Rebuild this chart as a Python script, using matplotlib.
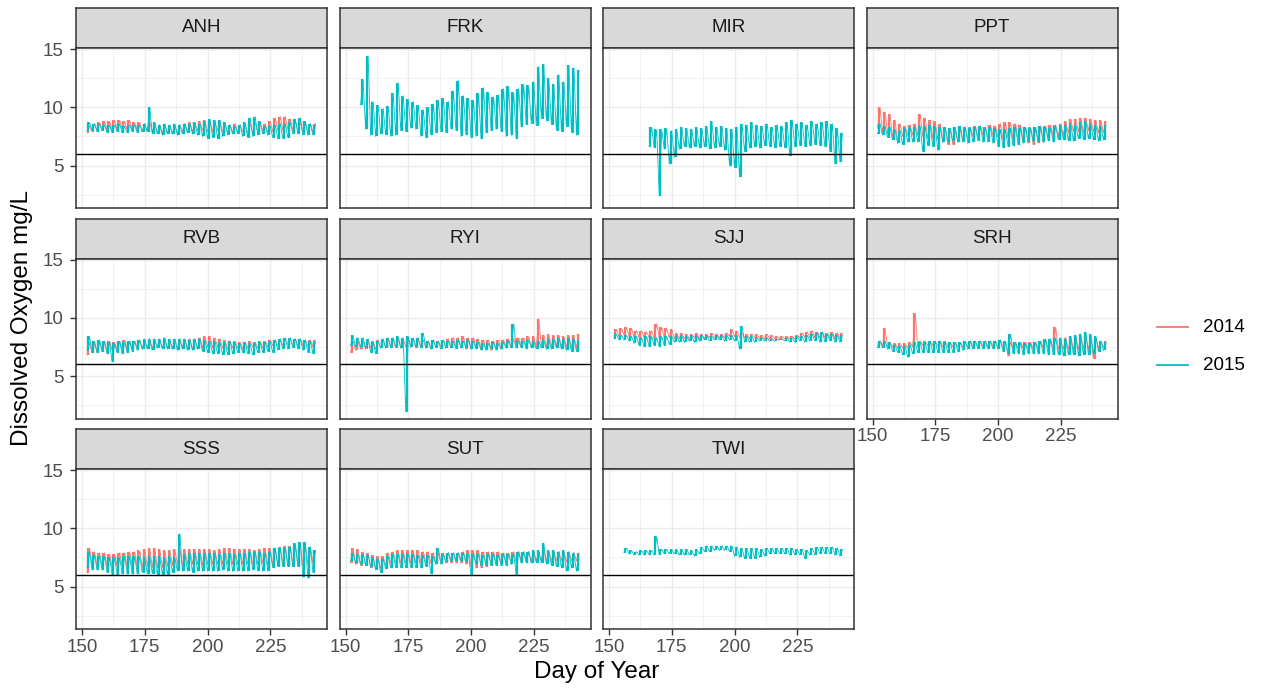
import numpy as np
import matplotlib.pyplot as plt
from matplotlib.lines import Line2D

plt.rcParams['font.family'] = ['Liberation Sans', 'DejaVu Sans']

# CONFIGURACION
W, H = 1261, 692
xlabel = "Day of Year"
ylabel = "Dissolved Oxygen mg/L"
sites = ["ANH", "FRK", "MIR", "PPT", "RVB", "RYI", "SJJ", "SRH", "SSS", "SUT", "TWI"]
years = ["2014", "2015"]
colors = {"2014": "#F8766D", "2015": "#00BFC4"}
xticks = [150, 175, 200, 225]
yticks = [5, 10, 15]
do_limit = 6

# DATOS: daily minimum (day start+2i) and maximum (day start+2i+1)
anh_2014_lo = [7.8, 7.9, 8.0, 8.0, 8.0, 8.0, 8.0, 8.1, 8.0, 8.0,
               8.0, 7.9, 7.9, 7.9, 7.8, 7.8, 7.8, 7.7, 7.8, 7.9,
               7.9, 7.9, 8.0, 8.0, 7.9, 7.9, 8.0, 7.9, 7.8, 7.8,
               7.9, 7.9, 7.8, 7.8, 7.9, 7.9, 7.8, 7.9, 8.0, 8.0,
               8.1, 8.0, 7.9, 7.8, 7.8, 7.8]
anh_2014_hi = [8.4, 8.6, 8.7, 8.8, 8.8, 8.9, 8.9, 8.8, 8.9, 8.7,
               8.7, 8.6, 8.7, 8.6, 8.5, 8.5, 8.4, 8.4, 8.5, 8.6,
               8.7, 8.7, 8.8, 8.9, 8.8, 8.7, 8.6, 8.5, 8.5, 8.6,
               8.5, 8.5, 8.6, 8.7, 8.6, 8.6, 8.8, 9.1, 9.2, 9.2,
               9.0, 8.8, 8.7, 8.6, 8.6, 8.6]
anh_2015_lo = [8.0, 8.0, 7.9, 8.0, 7.8, 7.8, 7.9, 7.8, 7.8, 7.9,
               7.8, 7.9, 7.9, 7.7, 7.7, 7.6, 7.7, 7.7, 7.6, 7.7,
               7.8, 7.7, 7.6, 7.5, 7.3, 7.4, 7.3, 7.5, 7.6, 7.7,
               7.7, 7.5, 7.4, 7.5, 7.6, 7.7, 7.6, 7.4, 7.3, 7.3,
               7.4, 7.7, 7.7, 7.6, 7.6, 7.6]
anh_2015_hi = [8.7, 8.6, 8.6, 8.5, 8.5, 8.5, 8.6, 8.4, 8.5, 8.5,
               8.5, 8.6, 10.0, 8.7, 8.5, 8.6, 8.5, 8.6, 8.5, 8.6,
               8.6, 8.7, 8.6, 8.8, 9.0, 8.9, 8.9, 8.7, 8.5, 8.4,
               8.5, 8.7, 9.1, 9.2, 8.8, 8.4, 8.4, 8.5, 8.6, 8.6,
               8.7, 9.0, 9.1, 8.8, 8.6, 8.5]

frk_2015_lo = [10.2, 8.1, 7.6, 7.5, 7.7, 7.6, 7.5, 7.6, 8.0, 7.9,
               8.2, 8.1, 7.5, 7.4, 7.6, 7.8, 7.9, 7.8, 8.1, 8.0,
               7.5, 7.6, 7.4, 7.5, 7.3, 7.8, 8.0, 8.1, 7.9, 7.5,
               7.6, 7.3, 8.3, 8.5, 8.6, 8.4, 9.0, 8.8, 8.5, 8.0,
               7.9, 8.3, 7.8, 7.6]
frk_2015_hi = [12.4, 14.4, 10.5, 10.2, 9.9, 10.1, 11.2, 12.1, 11.0, 10.7,
               10.5, 10.2, 9.8, 10.0, 10.3, 10.6, 10.8, 10.5, 11.4, 12.3,
               11.0, 10.8, 10.6, 11.2, 11.7, 11.3, 10.9, 11.1, 11.6, 11.8,
               11.3, 11.6, 12.0, 11.9, 12.2, 13.5, 13.7, 12.5, 12.0, 12.8,
               12.2, 13.6, 13.4, 13.2]

mir_2015_lo = [6.6, 6.5, 2.4, 6.4, 5.1, 5.7, 6.4, 6.6, 6.5, 6.6,
               6.5, 6.6, 6.4, 6.5, 6.6, 6.3, 5.0, 4.8, 4.0, 6.2,
               6.5, 6.6, 6.5, 6.7, 6.6, 6.5, 6.6, 6.5, 5.8, 6.6,
               6.7, 6.6, 6.7, 6.8, 6.7, 6.6, 6.2, 5.1, 5.3]
mir_2015_hi = [8.3, 8.1, 8.1, 8.2, 8.0, 8.1, 8.3, 8.2, 8.1, 8.3,
               8.2, 8.4, 8.8, 8.3, 8.4, 8.2, 8.1, 8.3, 8.6, 8.5,
               8.7, 8.5, 8.4, 8.6, 8.3, 8.5, 8.4, 8.7, 8.9, 8.6,
               8.7, 8.5, 8.8, 8.6, 8.7, 8.8, 8.6, 8.2, 7.8]

ppt_2014_lo = [8.2, 7.8, 7.7, 7.3, 6.9, 7.5, 7.6, 7.6, 7.6, 7.5,
               7.3, 7.3, 7.2, 7.0, 6.8, 6.8, 7.0, 7.1, 7.3, 7.5,
               7.5, 7.6, 7.4, 7.5, 7.4, 7.2, 7.3, 7.2, 7.2, 7.0,
               6.9, 6.8, 6.9, 7.0, 7.3, 7.4, 7.5, 7.6, 7.8, 7.9,
               7.9, 7.8, 8.0, 7.9, 7.8, 7.8]
ppt_2014_hi = [10.0, 9.6, 9.4, 8.9, 8.6, 8.4, 8.5, 8.6, 9.4, 9.1,
               8.9, 8.8, 8.6, 8.3, 8.1, 8.0, 8.1, 8.2, 8.3, 8.4,
               8.4, 8.3, 8.5, 8.4, 8.6, 8.7, 8.7, 8.6, 8.5, 8.3,
               8.3, 8.2, 8.3, 8.4, 8.5, 8.5, 8.6, 8.8, 9.0, 9.0,
               9.1, 9.1, 9.0, 8.9, 8.9, 8.8]
ppt_2015_lo = [7.7, 7.6, 7.4, 7.2, 6.9, 6.8, 7.0, 7.0, 7.0, 6.2,
               6.7, 6.6, 6.3, 7.0, 7.0, 7.1, 7.0, 7.0, 6.9, 7.0,
               7.1, 7.0, 7.0, 6.9, 6.6, 6.5, 6.6, 6.7, 6.8, 6.9,
               7.0, 7.1, 7.0, 7.0, 7.1, 7.0, 7.2, 7.2, 7.1, 7.1,
               7.3, 7.2, 7.3, 7.2, 7.1, 7.2]
ppt_2015_hi = [8.6, 8.4, 8.3, 8.1, 8.0, 8.2, 8.3, 8.3, 8.4, 8.4,
               8.5, 8.4, 8.3, 8.3, 8.2, 8.3, 8.4, 8.3, 8.2, 8.3,
               8.4, 8.3, 8.3, 8.2, 8.1, 8.1, 8.2, 8.3, 8.2, 8.3,
               8.2, 8.3, 8.4, 8.3, 8.2, 8.4, 8.5, 8.5, 8.6, 8.5,
               8.7, 8.8, 8.6, 8.5, 8.4, 8.5]

rvb_2014_lo = [6.8, 7.0, 7.0, 7.1, 7.0, 7.2, 7.2, 7.3, 7.2, 7.3,
               7.4, 7.3, 7.4, 7.4, 7.5, 7.4, 7.4, 7.3, 7.4, 7.5,
               7.4, 7.3, 7.3, 7.4, 7.5, 7.4, 7.5, 7.4, 7.3, 7.4,
               7.4, 7.3, 7.4, 7.5, 7.4, 7.4, 7.5, 7.6, 7.6, 7.6,
               7.7, 7.6, 7.6, 7.6, 7.5, 7.5]
rvb_2014_hi = [7.9, 7.8, 7.9, 7.9, 8.0, 7.9, 8.0, 8.1, 8.0, 8.0,
               8.1, 8.0, 8.1, 8.0, 8.1, 8.1, 8.0, 8.1, 8.0, 8.1,
               8.2, 8.2, 8.3, 8.4, 8.4, 8.3, 8.2, 8.1, 8.0, 8.0,
               7.9, 7.9, 8.0, 7.9, 8.0, 8.0, 8.1, 8.1, 8.1, 8.2,
               8.2, 8.2, 8.2, 8.1, 8.1, 8.1]
rvb_2015_lo = [7.2, 7.0, 7.0, 7.1, 6.9, 6.2, 7.0, 6.9, 7.0, 7.1,
               7.2, 7.3, 7.3, 7.2, 7.4, 7.3, 7.3, 7.3, 7.2, 7.3,
               7.2, 7.2, 7.3, 7.1, 7.0, 6.9, 6.9, 6.8, 6.8, 6.9,
               7.0, 7.0, 6.9, 6.8, 7.0, 7.0, 7.1, 7.0, 7.2, 7.3,
               7.3, 7.4, 7.3, 7.2, 7.0, 6.9]
rvb_2015_hi = [8.4, 8.0, 8.1, 8.0, 7.9, 7.8, 8.0, 7.9, 8.0, 8.0,
               8.1, 8.2, 8.2, 8.2, 8.2, 8.3, 8.2, 8.2, 8.2, 8.2,
               8.1, 8.2, 8.2, 8.1, 8.0, 8.0, 7.9, 7.9, 8.0, 7.9,
               7.8, 7.9, 7.8, 7.8, 7.9, 7.9, 8.0, 8.1, 8.2, 8.3,
               8.3, 8.2, 8.2, 8.1, 8.0, 7.9]

ryi_2014_lo = [7.0, 7.2, 7.3, 7.3, 7.4, 7.3, 7.4, 7.4, 7.5, 7.4,
               7.4, 7.5, 7.5, 7.4, 7.5, 7.4, 7.4, 7.5, 7.5, 7.4,
               7.4, 7.5, 7.4, 7.3, 7.3, 7.4, 7.3, 7.3, 7.2, 7.3,
               7.3, 7.4, 7.4, 7.4, 7.5, 7.5, 7.5, 7.5, 7.6, 7.5,
               7.5, 7.6, 7.5, 7.5, 7.4, 7.4]
ryi_2014_hi = [8.0, 8.0, 8.0, 8.1, 8.0, 8.1, 8.1, 8.2, 8.1, 8.2,
               8.2, 8.2, 8.2, 8.1, 8.1, 8.0, 8.1, 8.0, 8.1, 8.2,
               8.3, 8.3, 8.4, 8.3, 8.3, 8.2, 8.1, 8.1, 8.0, 8.1,
               8.1, 8.2, 8.2, 8.3, 8.3, 8.4, 8.4, 9.9, 8.5, 8.6,
               8.5, 8.5, 8.4, 8.5, 8.5, 8.6]
ryi_2015_lo = [7.6, 7.5, 7.5, 7.4, 7.0, 6.9, 7.4, 7.4, 7.4, 7.5,
               7.4, 1.9, 7.5, 7.5, 7.4, 7.4, 7.3, 7.4, 7.3, 7.4,
               7.4, 7.3, 7.4, 7.4, 7.3, 7.3, 7.2, 7.2, 7.3, 7.2,
               7.3, 7.4, 7.4, 7.4, 7.4, 7.3, 7.4, 7.3, 7.4, 7.3,
               7.3, 7.4, 7.3, 7.2, 7.1, 7.1]
ryi_2015_hi = [8.5, 8.3, 8.3, 8.2, 7.9, 8.0, 8.2, 8.3, 8.3, 8.4,
               8.3, 8.4, 8.3, 8.3, 8.7, 8.0, 8.1, 8.0, 8.1, 8.0,
               8.0, 8.1, 8.0, 8.1, 8.0, 7.9, 7.8, 7.8, 7.9, 7.8,
               7.9, 8.0, 9.5, 8.0, 8.0, 8.1, 8.0, 8.0, 8.1, 8.2,
               8.2, 8.3, 8.2, 8.3, 8.2, 8.1]

sjj_2014_lo = [8.4, 8.4, 8.5, 8.4, 8.3, 8.3, 8.3, 8.3, 8.2, 8.3,
               8.3, 8.3, 8.2, 8.2, 8.2, 8.2, 8.3, 8.2, 8.2, 8.3,
               8.3, 8.3, 8.3, 8.4, 8.4, 8.3, 8.3, 8.2, 8.3, 8.2,
               8.2, 8.2, 8.2, 8.2, 8.2, 8.2, 8.2, 8.3, 8.3, 8.3,
               8.3, 8.3, 8.3, 8.3, 8.2, 8.2]
sjj_2014_hi = [9.0, 9.1, 9.2, 9.1, 8.9, 8.9, 8.8, 8.9, 9.5, 9.2,
               9.1, 9.0, 8.7, 8.7, 8.6, 8.6, 8.7, 8.6, 8.6, 8.7,
               8.6, 8.6, 8.7, 9.0, 8.9, 8.7, 8.6, 8.6, 8.6, 8.5,
               8.6, 8.5, 8.4, 8.4, 8.4, 8.4, 8.5, 8.7, 8.8, 8.9,
               8.8, 8.8, 8.7, 8.8, 8.7, 8.7]
sjj_2015_lo = [8.2, 8.1, 8.1, 8.0, 7.8, 7.6, 7.5, 7.5, 7.6, 7.5,
               7.6, 7.7, 7.9, 7.9, 7.9, 8.0, 7.9, 8.0, 8.1, 8.0,
               8.1, 8.1, 8.0, 8.1, 8.0, 7.3, 7.9, 7.9, 7.9, 8.0,
               8.0, 8.0, 8.0, 8.1, 8.0, 7.9, 7.9, 8.0, 7.9, 8.0,
               8.0, 7.9, 7.9, 8.0, 7.9, 7.9]
sjj_2015_hi = [8.6, 8.5, 8.5, 8.4, 8.4, 8.3, 8.4, 8.4, 8.3, 8.4,
               8.4, 8.4, 8.5, 8.5, 8.4, 8.5, 8.5, 8.5, 8.5, 8.4,
               8.5, 8.5, 8.5, 8.5, 8.5, 9.3, 8.4, 8.4, 8.3, 8.3,
               8.3, 8.2, 8.2, 8.2, 8.3, 8.3, 8.4, 8.4, 8.5, 8.6,
               8.7, 8.8, 8.6, 8.6, 8.5, 8.5]

srh_2014_lo = [7.6, 7.6, 7.5, 7.5, 7.4, 7.4, 7.4, 7.5, 7.5, 7.6,
               7.6, 7.6, 7.6, 7.5, 7.5, 7.5, 7.5, 7.5, 7.5, 7.5,
               7.5, 7.5, 7.5, 7.5, 7.5, 7.4, 6.7, 7.4, 7.4, 7.4,
               7.3, 7.3, 7.3, 7.4, 7.3, 7.4, 7.3, 7.3, 7.3, 7.3,
               7.3, 7.4, 7.3, 6.5, 7.4, 7.5]
srh_2014_hi = [8.0, 9.1, 7.9, 7.8, 7.8, 7.8, 7.9, 10.4, 8.0, 8.0,
               8.0, 8.0, 8.0, 8.0, 7.9, 7.9, 7.9, 7.9, 8.0, 8.0,
               8.0, 8.0, 8.0, 8.0, 8.0, 7.9, 7.9, 7.9, 7.9, 7.9,
               7.9, 7.9, 8.0, 8.1, 8.0, 9.2, 8.1, 8.3, 8.4, 8.4,
               8.4, 8.4, 8.4, 8.3, 8.0, 8.0]
srh_2015_lo = [7.4, 7.4, 7.3, 7.1, 7.0, 6.8, 6.6, 6.9, 7.0, 7.0,
               7.0, 7.0, 7.0, 7.0, 7.0, 7.0, 7.1, 7.2, 7.3, 7.3,
               7.3, 7.3, 7.3, 7.3, 7.3, 7.1, 6.9, 6.9, 6.9, 6.8,
               6.9, 6.9, 6.9, 6.9, 6.8, 6.8, 6.8, 6.7, 6.8, 6.8,
               6.7, 6.8, 6.8, 6.9, 7.1, 7.2]
srh_2015_hi = [8.0, 8.0, 7.9, 7.7, 7.6, 7.6, 7.7, 7.9, 7.9, 7.9,
               8.0, 8.0, 8.0, 7.9, 7.9, 7.9, 7.9, 8.0, 8.0, 8.0,
               8.0, 8.0, 8.0, 8.0, 8.1, 8.0, 8.6, 7.9, 7.9, 7.8,
               7.8, 7.9, 8.0, 8.2, 8.2, 8.3, 8.3, 8.2, 8.4, 8.5,
               8.6, 8.8, 8.6, 8.4, 8.0, 7.9]

sss_2014_lo = [6.2, 6.7, 6.7, 6.7, 6.6, 6.6, 6.7, 6.7, 6.6, 6.7,
               6.6, 6.6, 6.7, 6.6, 6.6, 6.6, 6.7, 6.8, 6.9, 6.8,
               6.9, 6.9, 6.9, 6.8, 6.9, 6.9, 6.9, 6.9, 6.9, 6.9,
               6.9, 6.9, 6.9, 6.9, 6.9, 7.0, 6.8, 6.8, 6.8, 6.8,
               6.8, 6.7, 6.8, 6.8, 6.9, 7.0]
sss_2014_hi = [8.3, 8.0, 7.9, 7.9, 7.8, 7.8, 7.9, 7.9, 8.0, 8.0,
               8.1, 8.2, 8.3, 8.3, 8.2, 8.1, 8.1, 8.2, 8.2, 8.2,
               8.2, 8.2, 8.2, 8.2, 8.2, 8.1, 8.2, 8.3, 8.3, 8.2,
               8.2, 8.2, 8.2, 8.1, 8.2, 8.3, 8.3, 8.3, 8.4, 8.5,
               8.5, 8.5, 8.5, 8.5, 8.3, 8.1]
sss_2015_lo = [6.6, 6.4, 6.4, 6.4, 6.2, 6.0, 6.0, 6.1, 6.1, 6.1,
               6.1, 6.2, 6.1, 6.1, 6.0, 6.0, 6.0, 6.2, 6.3, 6.3,
               6.3, 6.2, 6.3, 6.3, 6.3, 6.3, 6.3, 6.4, 6.3, 6.3,
               6.3, 6.3, 6.3, 6.4, 6.3, 6.3, 6.3, 6.6, 6.7, 6.7,
               6.7, 6.7, 6.7, 5.8, 5.7, 6.2]
sss_2015_hi = [8.0, 7.7, 7.6, 7.6, 7.5, 7.5, 7.5, 7.6, 7.6, 7.6,
               7.6, 7.5, 7.6, 7.6, 7.6, 7.5, 7.6, 7.5, 9.5, 7.8,
               7.9, 7.9, 7.9, 7.9, 7.9, 7.9, 7.8, 7.9, 7.9, 7.8,
               7.9, 7.9, 8.0, 8.0, 8.0, 7.9, 8.0, 8.3, 8.3, 8.3,
               8.4, 8.7, 8.8, 8.8, 8.4, 8.1]

sut_2014_lo = [7.0, 6.9, 6.8, 6.8, 6.6, 6.5, 6.5, 6.8, 7.0, 7.0,
               7.0, 7.0, 7.0, 7.0, 7.0, 7.0, 7.0, 7.0, 7.0, 7.0,
               7.0, 7.0, 7.0, 6.9, 6.7, 6.6, 6.6, 6.7, 6.8, 6.9,
               6.9, 6.9, 6.9, 7.0, 7.1, 7.2, 7.2, 7.2, 7.2, 7.2,
               7.2, 7.2, 7.2, 7.1, 7.2, 7.2]
sut_2014_hi = [8.3, 8.2, 8.0, 7.9, 7.7, 7.6, 7.6, 7.9, 8.0, 8.1,
               8.1, 8.1, 8.1, 8.1, 8.0, 8.0, 7.9, 7.9, 7.9, 7.9,
               7.9, 7.9, 8.0, 8.1, 8.1, 8.1, 8.0, 8.0, 8.0, 8.0,
               7.9, 7.9, 8.0, 8.0, 8.0, 8.0, 8.0, 8.0, 8.1, 8.0,
               8.0, 8.0, 8.0, 8.0, 7.9, 7.9]
sut_2015_lo = [7.2, 7.0, 6.9, 6.8, 6.7, 6.4, 6.2, 6.5, 6.6, 6.6,
               6.6, 6.6, 6.6, 6.6, 6.6, 6.7, 6.1, 6.9, 6.9, 7.1,
               7.2, 7.2, 7.2, 7.1, 6.0, 6.9, 6.8, 6.8, 6.8, 6.8,
               6.8, 6.8, 6.9, 6.0, 7.0, 7.0, 7.0, 7.0, 7.0, 6.9,
               6.8, 6.7, 6.6, 6.3, 6.6, 6.3]
sut_2015_hi = [7.9, 7.8, 7.8, 7.7, 7.5, 7.4, 7.4, 7.6, 7.8, 7.8,
               7.8, 7.8, 7.8, 7.7, 7.7, 7.7, 7.6, 8.3, 7.8, 7.9,
               7.9, 7.9, 7.9, 7.8, 7.8, 7.8, 7.7, 7.8, 7.8, 7.7,
               7.8, 7.8, 7.8, 8.0, 8.0, 8.0, 8.1, 8.1, 8.7, 8.1,
               8.1, 8.0, 8.1, 8.0, 7.9, 7.8]

twi_2015_lo = [7.9, 7.8, 7.7, 7.7, 7.7, 7.7, 7.7, 7.7, 7.8, 7.8,
               7.8, 7.7, 7.7, 7.7, 7.6, 7.8, 8.0, 8.0, 8.1, 8.1,
               8.1, 8.0, 7.6, 7.5, 7.4, 7.4, 7.4, 7.5, 7.6, 7.8,
               7.8, 7.8, 7.8, 7.7, 7.7, 7.7, 7.4, 7.7, 7.7, 7.8,
               7.8, 7.8, 7.7, 7.6]
twi_2015_hi = [8.3, 8.1, 8.0, 8.1, 8.1, 8.1, 9.3, 8.2, 8.2, 8.2,
               8.2, 8.2, 8.2, 8.1, 8.2, 8.4, 8.5, 8.5, 8.5, 8.5,
               8.5, 8.5, 8.4, 8.3, 8.3, 8.3, 8.3, 8.2, 8.3, 8.3,
               8.3, 8.3, 8.3, 8.3, 8.2, 8.2, 8.1, 8.3, 8.4, 8.4,
               8.4, 8.4, 8.3, 8.2]

# (site, year) -> (first day, minima, maxima)
series = {
    ("ANH", "2014"): (152, anh_2014_lo, anh_2014_hi),
    ("ANH", "2015"): (152, anh_2015_lo, anh_2015_hi),
    ("FRK", "2015"): (156, frk_2015_lo, frk_2015_hi),
    ("MIR", "2015"): (166, mir_2015_lo, mir_2015_hi),
    ("PPT", "2014"): (152, ppt_2014_lo, ppt_2014_hi),
    ("PPT", "2015"): (152, ppt_2015_lo, ppt_2015_hi),
    ("RVB", "2014"): (152, rvb_2014_lo, rvb_2014_hi),
    ("RVB", "2015"): (152, rvb_2015_lo, rvb_2015_hi),
    ("RYI", "2014"): (152, ryi_2014_lo, ryi_2014_hi),
    ("RYI", "2015"): (152, ryi_2015_lo, ryi_2015_hi),
    ("SJJ", "2014"): (152, sjj_2014_lo, sjj_2014_hi),
    ("SJJ", "2015"): (152, sjj_2015_lo, sjj_2015_hi),
    ("SRH", "2014"): (152, srh_2014_lo, srh_2014_hi),
    ("SRH", "2015"): (152, srh_2015_lo, srh_2015_hi),
    ("SSS", "2014"): (152, sss_2014_lo, sss_2014_hi),
    ("SSS", "2015"): (152, sss_2015_lo, sss_2015_hi),
    ("SUT", "2014"): (152, sut_2014_lo, sut_2014_hi),
    ("SUT", "2015"): (152, sut_2015_lo, sut_2015_hi),
    ("TWI", "2015"): (156, twi_2015_lo, twi_2015_hi),
}


def box(left, top, w, h):
    # pixel box -> figure fraction
    return [left / W, 1 - (top + h) / H, w / W, h / H]


fig = plt.figure(figsize=(W / 100, H / 100), dpi=100)
border = "#333333"
ncol = 4
small = 13.5
big = 17.5

for k, site in enumerate(sites):
    r, c = divmod(k, ncol)
    left = 76 + 263.5 * c
    top = 8 + 210.5 * r

    # strip
    st = fig.add_axes(box(left, top, 251, 40))
    st.set_facecolor("#D9D9D9")
    st.set_xticks([])
    st.set_yticks([])
    for s in st.spines.values():
        s.set_color(border)
        s.set_linewidth(1.1)
    st.text(0.5, 0.5, site, ha="center", va="center", fontsize=small,
            color="#1A1A1A", transform=st.transAxes)

    ax = fig.add_axes(box(left, top + 40, 251, 160))
    for yr in years:
        if (site, yr) not in series:
            continue
        start, lo, hi = series[(site, yr)]
        n = min(len(lo), len(hi))
        d = start + 2 * np.arange(n)
        # daily range bars plus a thin trace between them
        ax.vlines(d + 0.5, lo[:n], hi[:n], color=colors[yr], lw=1.6, zorder=3)
        dd = start + np.arange(2 * n)
        v = np.empty(2 * n)
        v[0::2] = lo[:n]
        v[1::2] = hi[:n]
        ax.plot(dd, v, color=colors[yr], lw=0.6, zorder=3)
    ax.axhline(do_limit, color="black", lw=1.0, zorder=4)

    ax.set_xlim(147.6, 247.6)
    ax.set_ylim(1.35, 15.1)
    ax.set_xticks(xticks)
    ax.set_xticks([162.5, 187.5, 212.5, 237.5], minor=True)
    ax.set_yticks(yticks)
    ax.set_yticks([2.5, 7.5, 12.5], minor=True)
    ax.grid(which="major", color="#EBEBEB", lw=1.0, zorder=0)
    ax.grid(which="minor", color="#EBEBEB", lw=0.5, zorder=0)
    ax.set_axisbelow(True)
    for s in ax.spines.values():
        s.set_color(border)
        s.set_linewidth(1.1)
        s.set_zorder(5)
    ax.tick_params(which="minor", length=0)
    ax.tick_params(which="major", width=1, color=border,
                   labelsize=small, labelcolor="#4D4D4D")

    show_x = (r == 2) or (r == 1 and c == 3)
    show_y = (c == 0)
    ax.tick_params(axis="x", labelbottom=show_x, length=4 if show_x else 0, pad=3)
    ax.tick_params(axis="y", labelleft=show_y, length=4.5 if show_y else 0, pad=4.5)

fig.text(22 / W, 1 - 318 / H, ylabel, rotation=90, ha="center", va="center",
         fontsize=big, color="black")
fig.text(597 / W, 1 - 678 / H, xlabel, ha="center", va="baseline",
         fontsize=big, color="black")

# legend
for yr, ypx in zip(years, [327, 365]):
    fig.add_artist(Line2D([1157 / W, 1188 / W], [1 - ypx / H, 1 - ypx / H],
                          color=colors[yr], lw=1.3, transform=fig.transFigure))
    fig.text(1203 / W, 1 - ypx / H, yr, ha="left", va="center",
             fontsize=small, color="black")

plt.savefig("out.png", dpi=100)
